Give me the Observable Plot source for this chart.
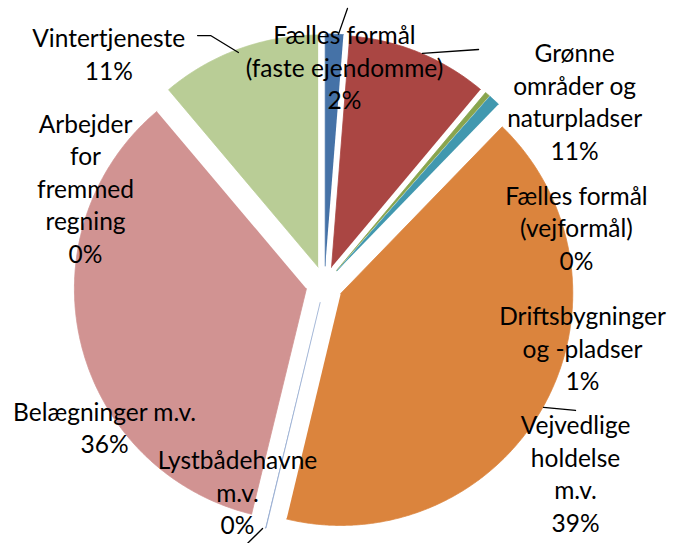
<!DOCTYPE html>
<html>
<head>
<meta charset="utf-8">
<script src="https://cdn.jsdelivr.net/npm/d3@7"></script>
<script src="https://cdn.jsdelivr.net/npm/@observablehq/plot@0.6"></script>
<style>
  html, body { margin: 0; padding: 0; background: #fff; }
  svg { display: block; }
</style>
</head>
<body>
<div id="chart"></div>
<script>
// ---- data (clockwise from 12 o'clock) ----
const categories = [
  "Fælles formål (faste ejendomme)",
  "Grønne områder og naturpladser",
  "Fælles formål (vejformål)",
  "Driftsbygninger og -pladser",
  "Vejvedlige holdelse m.v.",
  "Lystbådehavne m.v.",
  "Belægninger m.v.",
  "Arbejder for fremmed regning",
  "Vintertjeneste"
];
const values = [1.25, 9.85, 0.35, 0.8, 41.5, 0.05, 35.05, 0, 11.15];
const percentLabels = ["2%", "11%", "0%", "1%", "39%", "0%", "36%", "0%", "11%"];
const nameLines = [
  ["Fælles formål", "(faste ejendomme)"],
  ["Grønne", "områder og", "naturpladser"],
  ["Fælles formål", "(vejformål)"],
  ["Driftsbygninger", "og -pladser"],
  ["Vejvedlige", "holdelse", "m.v."],
  ["Lystbådehavne", "m.v."],
  ["Belægninger m.v."],
  ["Arbejder", "for", "fremmed", "regning"],
  ["Vintertjeneste"]
];
const colors = ["#4572A7", "#AA4643", "#89A54E", "#4198AF", "#DB843D", "#93A9CF", "#D19392", "#71588F", "#B9CD96"];

// ---- layout (radius units, pie centre = 0,0) ----
const explode = 0.08;
const labelX = [0.086, 1.078, 1.086, 1.112, 1.082, -0.375, -0.948, -1.030, -0.930];
const labelY = [0.940, 0.792, 0.248, -0.270, -0.810, -0.892, -0.612, 0.419, 0.998];
const leaders = [
  [[0.099, 1.190], [0.060, 1.078]],
  [[0.422, 0.996], [0.664, 1.013]],
  [[0.944, -0.530], [1.082, -0.543]],
  [[-0.267, -1.052], [-0.341, -1.125]],
  [[-0.547, 1.073], [-0.491, 1.073], [-0.371, 1.000]]
];

// ---- build slice polygons ----
const arcs = d3.pie().sort(null).value(d => d)(values);
const slicePts = [];
arcs.forEach((a, i) => {
  if (a.endAngle - a.startAngle <= 0) return;
  const mid = (a.startAngle + a.endAngle) / 2;
  const ox = explode * Math.sin(mid), oy = explode * Math.cos(mid);
  const key = categories[i];
  slicePts.push({key, x: ox, y: oy});
  const n = Math.max(2, Math.ceil((a.endAngle - a.startAngle) / 0.005));
  for (let k = 0; k <= n; k++) {
    const t = a.startAngle + (a.endAngle - a.startAngle) * k / n;
    slicePts.push({key, x: ox + Math.sin(t), y: oy + Math.cos(t)});
  }
});

const labelData = categories.map((c, i) => ({
  x: labelX[i], y: labelY[i],
  text: [...nameLines[i], percentLabels[i]].join("\n")
}));
const leaderPts = leaders.flatMap((l, j) => l.map(([x, y]) => ({j, x, y})));

const W = 674, H = 543, R = 232, CX = 324, CY = 284;
const chart = Plot.plot({
  width: W, height: H, margin: 0,
  x: {domain: [-CX / R, (W - CX) / R], axis: null},
  y: {domain: [-(H - CY) / R, CY / R], axis: null},
  color: {domain: categories, range: colors},
  style: {background: "#fff", overflow: "hidden"},
  marks: [
    Plot.line(slicePts, {x: "x", y: "y", z: "key", fill: "key", stroke: "key", strokeWidth: 0.8, curve: "linear"}),
    Plot.line(leaderPts, {x: "x", y: "y", z: "j", stroke: "#000", strokeWidth: 1.3}),
    Plot.text(labelData, {x: "x", y: "y", text: "text", fontSize: 24.5, lineHeight: 1.33,
      textAnchor: "middle", lineAnchor: "middle", fontFamily: "Lato", fill: "#000"})
  ]
});
document.getElementById("chart").appendChild(chart);
</script>
</body>
</html>
